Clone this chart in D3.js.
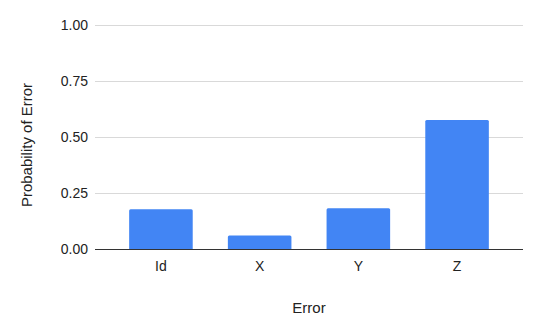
<!DOCTYPE html>
<html>
  <head>
    <meta charset="UTF-8" />
    <style>
      body { margin: 0; background: #fff; }
      svg { display: block; font-family: "Liberation Sans", Arial, sans-serif; }
    </style>
  </head>
  <body>
    <svg></svg>
    <script src="https://d3js.org/d3.v7.min.js"></script>
    <script>
      let width = 540,
        height = 334;

      // data
      const categories = ["Id", "X", "Y", "Z"];
      const values = [0.179, 0.062, 0.184, 0.577];
      const yTicks = [0, 0.25, 0.5, 0.75, 1.0];

      let svg = d3.select("svg").attr("width", width).attr("height", height);

      let x = d3
        .scaleBand()
        .domain(categories)
        .range([95, 523])
        .paddingInner(0.356)
        .paddingOuter(0.346);

      let y = d3.scaleLinear().domain([0, 1]).range([249.5, 25]);

      // gridlines
      svg
        .append("g")
        .selectAll("line")
        .data(yTicks.filter((d) => d > 0))
        .enter()
        .append("line")
        .attr("x1", 95)
        .attr("x2", 523)
        .attr("y1", (d) => Math.round(y(d)) + 0.5)
        .attr("y2", (d) => Math.round(y(d)) + 0.5)
        .attr("stroke", "#d9d9d9")
        .attr("stroke-width", 1);

      // y tick labels
      svg
        .append("g")
        .selectAll("text")
        .data(yTicks)
        .enter()
        .append("text")
        .attr("x", 88)
        .attr("y", (d) => y(d))
        .attr("dy", "0.35em")
        .attr("text-anchor", "end")
        .attr("font-size", 14)
        .attr("fill", "#222")
        .text((d) => d3.format(".2f")(d));

      // bars
      svg
        .append("g")
        .selectAll("path")
        .data(categories)
        .enter()
        .append("path")
        .attr("fill", "#4285f4")
        .attr("d", function (d, i) {
          let x0 = x(d),
            w = x.bandwidth(),
            y0 = y(values[i]),
            y1 = y(0),
            r = 1.5;
          return (
            "M" + x0 + "," + y1 +
            "V" + (y0 + r) +
            "Q" + x0 + "," + y0 + " " + (x0 + r) + "," + y0 +
            "H" + (x0 + w - r) +
            "Q" + (x0 + w) + "," + y0 + " " + (x0 + w) + "," + (y0 + r) +
            "V" + y1 + "Z"
          );
        });

      // baseline
      svg
        .append("line")
        .attr("x1", 95)
        .attr("x2", 523)
        .attr("y1", 249.5)
        .attr("y2", 249.5)
        .attr("stroke", "#333")
        .attr("stroke-width", 1);

      // x tick labels
      svg
        .append("g")
        .selectAll("text")
        .data(categories)
        .enter()
        .append("text")
        .attr("x", (d) => x(d) + x.bandwidth() / 2)
        .attr("y", 266)
        .attr("dy", "0.35em")
        .attr("text-anchor", "middle")
        .attr("font-size", 14)
        .attr("fill", "#222")
        .text((d) => d);

      // axis titles
      svg
        .append("text")
        .attr("x", 309)
        .attr("y", 308)
        .attr("dy", "0.35em")
        .attr("text-anchor", "middle")
        .attr("font-size", 15)
        .attr("fill", "#222")
        .text("Error");

      svg
        .append("text")
        .attr("transform", "translate(27,145) rotate(-90)")
        .attr("dy", "0.35em")
        .attr("text-anchor", "middle")
        .attr("font-size", 15)
        .attr("fill", "#222")
        .text("Probability of Error");
    </script>
  </body>
</html>
